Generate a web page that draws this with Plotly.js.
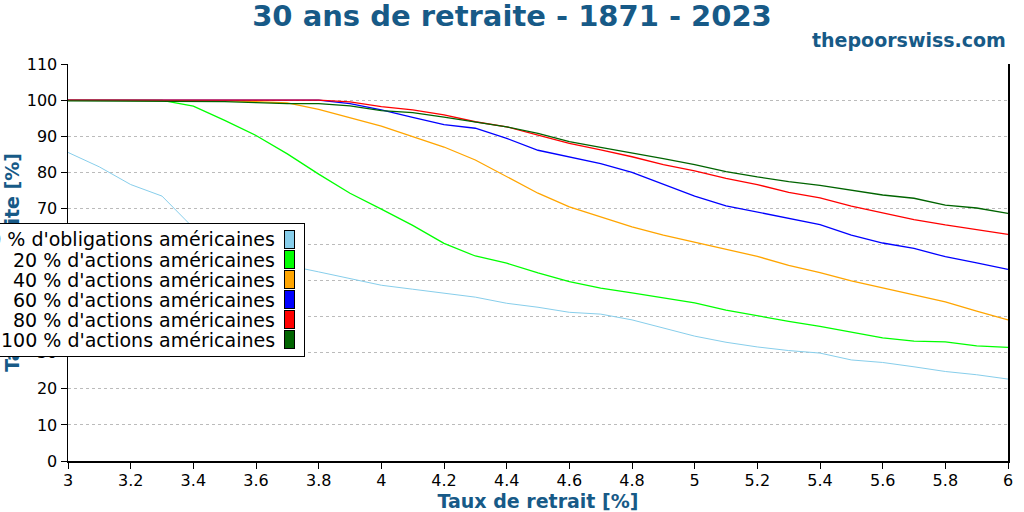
<!DOCTYPE html>
<html>
<head>
<meta charset="utf-8">
<script src="https://cdn.plot.ly/plotly-3.0.1.min.js"></script>
<style>
  html, body { margin: 0; padding: 0; background: #fff; }
  #chart { width: 1024px; height: 512px; }
</style>
</head>
<body>
<div id="chart"></div>
<script>
// withdrawal rates (%)
var rates = [3.0, 3.1, 3.2, 3.3, 3.4, 3.5, 3.6, 3.7, 3.8, 3.9, 4.0, 4.1, 4.2, 4.3, 4.4, 4.5,
  4.6, 4.7, 4.8, 4.9, 5.0, 5.1, 5.2, 5.3, 5.4, 5.5, 5.6, 5.7, 5.8, 5.9, 6.0];

// success rate (%) per allocation
var bonds100 = [85.5, 81.5, 76.6, 73.4, 64.6, 59.5, 56.5, 54.2, 52.4, 50.5, 48.7, 47.6, 46.5, 45.4, 43.7, 42.6,
  41.2, 40.7, 39.1, 36.8, 34.6, 32.9, 31.6, 30.6, 29.9, 28.0, 27.3, 26.1, 24.8, 23.9, 22.7];
var stocks20 = [100, 100, 100, 99.9, 98.3, 94.4, 90.2, 85.1, 79.5, 74.2, 69.8, 65.3, 60.3, 56.8, 54.8, 52.1,
  49.7, 47.9, 46.6, 45.2, 43.8, 41.8, 40.2, 38.7, 37.3, 35.6, 34.1, 33.2, 33.0, 31.9, 31.5];
var stocks40 = [100, 100, 100, 100, 100, 99.8, 99.6, 99.2, 97.4, 95.2, 92.8, 89.9, 87.0, 83.4, 78.8, 74.2,
  70.4, 67.6, 64.9, 62.6, 60.6, 58.8, 56.7, 54.2, 52.2, 49.9, 47.9, 46.0, 44.1, 41.5, 39.1];
var stocks60 = [100, 100, 100, 100, 100, 100, 100, 100, 100, 99.0, 97.3, 95.2, 93.2, 92.2, 89.4, 86.1,
  84.3, 82.4, 80.0, 76.8, 73.4, 70.7, 68.9, 67.3, 65.5, 62.6, 60.4, 58.9, 56.6, 54.9, 53.1];
var stocks80 = [100, 100, 100, 100, 100, 100, 100, 100, 100, 99.5, 98.2, 97.3, 95.9, 94.0, 92.6, 90.3,
  88.0, 86.2, 84.3, 82.1, 80.4, 78.3, 76.6, 74.4, 72.9, 70.6, 68.7, 66.9, 65.4, 64.2, 62.8];
var stocks100 = [99.8, 99.8, 99.8, 99.8, 99.8, 99.6, 99.3, 99.0, 99.0, 98.4, 97.1, 96.5, 95.3, 94.0, 92.6, 90.8,
  88.5, 86.9, 85.4, 83.8, 82.1, 80.2, 78.7, 77.4, 76.4, 75.0, 73.7, 72.8, 70.9, 70.1, 68.6];

var names = ["100 % d'obligations américaines", "20 % d'actions américaines", "40 % d'actions américaines",
  "60 % d'actions américaines", "80 % d'actions américaines", "100 % d'actions américaines"];
var series = [bonds100, stocks20, stocks40, stocks60, stocks80, stocks100];
var colors = ['#87ceeb', '#00ff00', '#ffa500', '#0000ff', '#ff0000', '#006400'];

var blue = '#175a87';
var font = 'DejaVu Sans, sans-serif';

var data = series.map(function(ys, i) {
  return {
    type: 'scatter',
    mode: 'lines',
    name: names[i],
    x: rates,
    y: ys,
    line: {color: colors[i], width: i == 0 ? 1 : 1.3},
    showlegend: false
  };
});

// plot area in pixels, used to place the hand-made legend
var L = 68, R = 1008, T = 64, B = 461;
function px(x) { return (x - L) / (R - L); }
function py(y) { return (B - y) / (B - T); }

// legend drawn with annotations so it sits above the axis title, swatches on the right like the original
var annotations = [{
  text: 'thepoorswiss.com', xref: 'paper', yref: 'paper', x: 1, y: py(40),
  xanchor: 'right', yanchor: 'middle', showarrow: false,
  font: {family: font, size: 19, color: blue, weight: 'bold'}
}, {
  text: ' ', xref: 'paper', yref: 'paper', x: px(305), y: py(289.5),
  xanchor: 'right', yanchor: 'middle', showarrow: false,
  width: 324, height: 132, borderpad: 0, borderwidth: 1,
  bordercolor: '#000', bgcolor: '#fff'
}];
names.forEach(function(n, i) {
  annotations.push({
    text: ' ', xref: 'paper', yref: 'paper', x: px(289), y: py(239.5 + 20 * i),
    xanchor: 'center', yanchor: 'middle', showarrow: false,
    width: 9, height: 17, borderpad: 0, borderwidth: 1,
    bordercolor: '#000', bgcolor: colors[i]
  });
  annotations.push({
    text: n, xref: 'paper', yref: 'paper', x: px(277), y: py(239.5 + 20 * i),
    xanchor: 'right', yanchor: 'middle', showarrow: false,
    font: {family: font, size: 19, color: '#000'}
  });
});

var layout = {
  width: 1024,
  height: 512,
  margin: {l: L, r: 1024 - R, t: T, b: 512 - B},
  paper_bgcolor: '#fff',
  plot_bgcolor: '#fff',
  font: {family: font, size: 16, color: '#000'},
  title: {
    text: '30 ans de retraite - 1871 - 2023',
    x: 0.5, xanchor: 'center', y: 1 - 16 / 512, yanchor: 'middle',
    font: {family: font, size: 29, color: blue, weight: 'bold'}
  },
  xaxis: {
    range: [3, 6],
    dtick: 0.2,
    tick0: 3,
    showgrid: false,
    zeroline: false,
    showline: true,
    linecolor: '#000',
    linewidth: 1.5,
    ticks: 'outside',
    ticklen: 6,
    tickcolor: '#000',
    ticklabelstandoff: -2,
    tickfont: {family: font, size: 16, color: '#000'},
    title: {
      text: 'Taux de retrait [%]',
      font: {family: font, size: 19, color: blue, weight: 'bold'},
      standoff: 0
    }
  },
  yaxis: {
    range: [0, 110],
    dtick: 10,
    showgrid: true,
    gridcolor: '#bbbbbb',
    griddash: 'dot',
    gridwidth: 1,
    zeroline: false,
    showline: true,
    mirror: true,
    linecolor: '#000',
    linewidth: 1.5,
    ticks: 'outside',
    ticklen: 6,
    tickcolor: '#000',
    tickfont: {family: font, size: 16, color: '#000'},
    title: {
      text: 'Taux de réussite [%]',
      font: {family: font, size: 19, color: blue, weight: 'bold'},
      standoff: 2
    }
  },
  annotations: annotations
};

Plotly.newPlot('chart', data, layout, {staticPlot: true});
</script>
</body>
</html>
